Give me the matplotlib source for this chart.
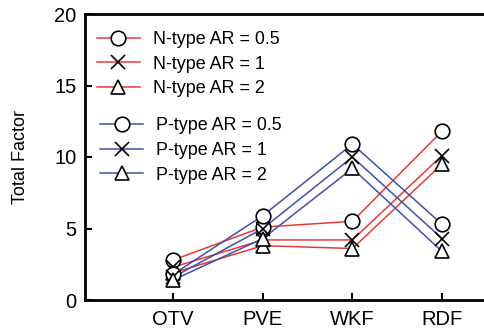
import matplotlib
matplotlib.use("Agg")
import matplotlib.pyplot as plt
from matplotlib.lines import Line2D

plt.rcParams['font.family'] = ['Liberation Sans', 'DejaVu Sans']

categories = ["OTV", "PVE", "WKF", "RDF"]

n_ar05 = [2.8, 5.1, 5.5, 11.8]
n_ar1 = [2.3, 4.2, 4.2, 10.1]
n_ar2 = [1.9, 3.8, 3.6, 9.5]

p_ar05 = [1.8, 5.9, 10.9, 5.3]
p_ar1 = [1.6, 5.0, 10.0, 4.3]
p_ar2 = [1.4, 4.3, 9.2, 3.4]

y_ticks = [0, 5, 10, 15, 20]

red = "#e83a35"
blue = "#3f51b0"

fig = plt.figure(figsize=(4.85, 3.33), dpi=100)
ax = fig.add_axes([85 / 485, 33 / 333, 400 / 485, 286 / 333])

x = list(range(len(categories)))
ms = 10.5
series = [
    (n_ar05, red, "o", "N-type AR = 0.5"),
    (n_ar1, red, "x", "N-type AR = 1"),
    (n_ar2, red, "^", "N-type AR = 2"),
    (p_ar05, blue, "o", "P-type AR = 0.5"),
    (p_ar1, blue, "x", "P-type AR = 1"),
    (p_ar2, blue, "^", "P-type AR = 2"),
]

handles = []
for vals, col, mk, lab in series:
    ax.plot(x, vals, color=col, lw=1.1, zorder=2)
    ax.plot(x, vals, ls="none", marker=mk, ms=ms, mfc="white", mec="black",
            mew=1.2, zorder=3)
    handles.append(Line2D([0], [0], color=col, lw=1.1, marker=mk, ms=ms,
                          mfc="white", mec="black", mew=1.2, label=lab))

ax.set_xlim(-0.985, 3.48)
ax.set_ylim(0, 20)
ax.set_xticks(x)
ax.set_xticklabels(categories)
ax.set_yticks(y_ticks)
ax.tick_params(direction="in", length=5, width=1.5, labelsize=14.5, pad=6)
ax.tick_params(axis="x", pad=7)
for side in ["left", "top", "bottom"]:
    ax.spines[side].set_linewidth(2)
ax.spines["right"].set_linewidth(0.8)
ax.spines["right"].set_color("#aaaaaa")
ax.set_ylabel("Total Factor", fontsize=13, labelpad=18)

leg_kw = dict(frameon=False, fontsize=12.9, handlelength=2.4, handletextpad=0.72,
              labelspacing=0.43, borderaxespad=0.0)
leg1 = ax.legend(handles=handles[:3], loc="upper left",
                 bbox_to_anchor=(0.012, 0.966), **leg_kw)
ax.add_artist(leg1)
ax.legend(handles=handles[3:], loc="upper left",
          bbox_to_anchor=(0.02, 0.664), **leg_kw)

fig.savefig("out.png", dpi=100)
